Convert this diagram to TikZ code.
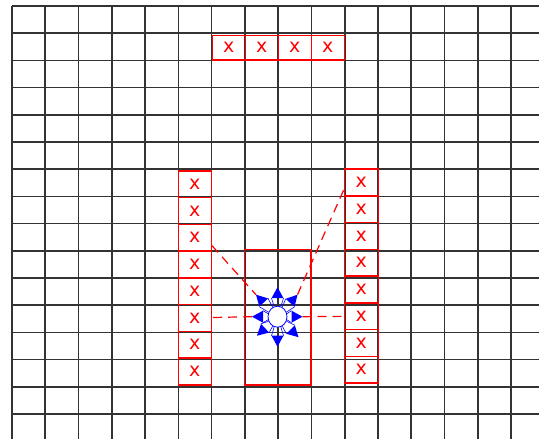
\documentclass[tikz,border=0pt]{standalone}
\usepackage{fontspec}
\setmainfont{DejaVu Sans}
\usetikzlibrary{calc,shapes.geometric}
\tikzset{
  gridline/.style={line width=1.6pt, black!80},
  xbox/.style={draw=red, line width=1.5pt, minimum width=33pt, minimum height=26.75pt,
    inner sep=0pt, text=red, font=\fontsize{19}{19}\selectfont, anchor=north west},
  topbox/.style={xbox, minimum height=24.5pt},
  rbox/.style={xbox, minimum width=34pt},
  bigbox/.style={draw=red, line width=1.5pt, inner sep=0pt, anchor=north west,
    minimum width=66.5pt, minimum height=135.5pt},
  link/.style={red, line width=1.2pt, dash pattern=on 9pt off 6pt},
  radiator/.style={draw=blue, line width=0.8pt, fill=white, ellipse,
    minimum width=19pt, minimum height=21pt, inner sep=0pt},
  ray/.style={blue, line width=0.6pt},
  rayhead/.style={fill=blue},
}
\begin{document}
\begin{tikzpicture}[x=1pt,y=-1pt]
\useasboundingbox (0,0) rectangle (539,439);
\fill[white] (0,0) rectangle (539,439);
% grid
\foreach \k in {0,...,15}
  \draw[gridline] (12,{6+27.2*\k}) -- (539,{6+27.2*\k});
\foreach \k in {0,...,15}
  \draw[gridline] ({12+33.27*\k},6) -- ({12+33.27*\k},439);
% boxes
\foreach \k in {1,...,4}
  \node[topbox] (T\k) at ({211.5+33*(\k-1)},34.5) {x};
\foreach \k in {1,...,8}
  \node[xbox] (L\k) at (177.5,{170+26.75*(\k-1)}) {x};
\foreach \k in {1,...,8}
  \node[rbox] (R\k) at (343.5,{168.3+26.75*(\k-1)}) {x};
\node[bigbox] (M) at (243.5,248.5) {};
% radiating symbol
\node[radiator] (ant) at (277.5,316.7) {};
\foreach \n/\dx/\dy in {N/0/-29.5, NE/20/-22, E/25/0, SE/21/20.5,
                        S/0/30, SW/-20.5/19, W/-25.5/0, NW/-21.5/-22} {
  \coordinate (tip\n) at ($(ant.center)+(\dx,\dy)$);
  \coordinate (base\n) at ($(tip\n)!11pt!(ant.center)$);
  \coordinate (cl\n) at ($(base\n)!6pt!90:(tip\n)$);
  \coordinate (cr\n) at ($(base\n)!6pt!-90:(tip\n)$);
}
% dashed links
\draw[link] (L3.-25) -- (tipNW);
\draw[link] (R1.204) -- (tipNE);
\draw[link] (tipW) -- (L6);
\draw[link] (tipE) -- (R6);
% rays
\foreach \n/\a in {N/90, NE/45, E/0, SE/-45, S/-90, SW/-135, W/180, NW/135} {
  \pgfmathtruncatemacro\ap{\a+18}
  \pgfmathtruncatemacro\am{\a-18}
  \draw[ray] (ant.\ap) -- (cl\n) (ant.\am) -- (cr\n);
  \fill[rayhead] (tip\n) -- (cl\n) -- (cr\n) -- cycle;
}
\end{tikzpicture}
\end{document}
